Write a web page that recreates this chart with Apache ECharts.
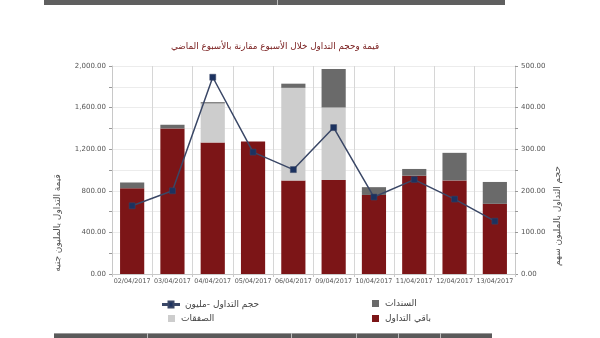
<!DOCTYPE html>
<html>
<head>
<meta charset="utf-8">
<script src="https://cdn.jsdelivr.net/npm/echarts@6/dist/echarts.min.js"></script>
<style>
html,body{margin:0;padding:0;background:#fff;}
#c{width:600px;height:338px;}
</style>
</head>
<body>
<div id="c"></div>
<script>
// ---- data ----
const categories = ['02/04/2017','03/04/2017','04/04/2017','05/04/2017','06/04/2017','09/04/2017','10/04/2017','11/04/2017','12/04/2017','13/04/2017'];
const restTrading = [825, 1400, 1265, 1275, 900, 905, 760, 945, 900, 675];   // باقي التداول
const deals       = [0, 0, 375, 0, 890, 695, 0, 0, 0, 0];                    // الصفقات
const bonds       = [55, 35, 12, 0, 40, 370, 75, 65, 265, 210];              // السندات
const volume      = [164, 200, 473, 293, 251, 352, 185, 227, 180, 127];      // حجم التداول -مليون
const leftTicks   = [0, 400, 800, 1200, 1600, 2000];
const rightTicks  = [0, 100, 200, 300, 400, 500];

const titleText = 'قيمة وحجم التداول خلال الأسبوع مقارنة بالأسبوع الماضي';
const leftName  = 'قيمة التداول بالمليون جنيه';
const rightName = 'حجم التداول بالمليون سهم';
const nRest = 'باقي التداول', nDeals = 'الصفقات', nBonds = 'السندات', nVol = 'حجم التداول -مليون';

const FF = '"DejaVu Sans", sans-serif';
const fmt = v => v.toLocaleString('en-US', {minimumFractionDigits: 2, maximumFractionDigits: 2});

const chart = echarts.init(document.getElementById('c'), null, {renderer: 'canvas'});
const legendBase = {orient: 'vertical', padding: 0, itemGap: 0, align: 'left',
  textStyle: {fontFamily: FF, fontSize: 9, color: '#444', padding: [0,0,0,1]}};
chart.setOption({
  animation: false,
  textStyle: {fontFamily: FF},
  grid: {left: 112, right: 85, top: 66, bottom: 64, containLabel: false},
  legend: [
    Object.assign({}, legendBase, {data: [{name: nVol, icon: 'path://M0,2.5h5.5v-2.5h5v2.5h5.5v1h-5.5v2.5h-5v-2.5h-5.5z'}],
      left: 162, top: 300, itemWidth: 16, itemHeight: 6}),
    Object.assign({}, legendBase, {data: [{name: nDeals, icon: 'rect'}], left: 168, top: 314, itemWidth: 7, itemHeight: 7}),
    Object.assign({}, legendBase, {data: [{name: nBonds, icon: 'rect'}], left: 372, top: 299, itemWidth: 7, itemHeight: 7}),
    Object.assign({}, legendBase, {data: [{name: nRest, icon: 'rect'}], left: 372, top: 314, itemWidth: 7, itemHeight: 7})
  ],
  xAxis: {
    type: 'category', data: categories,
    axisLine: {lineStyle: {color: '#c8c8c8'}},
    axisTick: {show: true, length: 3, lineStyle: {color: '#c8c8c8'}},
    splitLine: {show: true, lineStyle: {color: '#d6d6d6', width: 1}},
    axisLabel: {interval: 0, fontSize: 6.4, color: '#555', fontFamily: FF, margin: 4}
  },
  yAxis: [
    {
      type: 'value', min: 0, max: 2000, interval: 200, position: 'left',
      axisLine: {show: true, lineStyle: {color: '#c8c8c8'}},
      axisTick: {show: true, length: 3, lineStyle: {color: '#999'}},
      splitLine: {show: true, lineStyle: {color: '#ececec'}},
      axisLabel: {fontSize: 7, color: '#555', fontFamily: FF, margin: 6,
        formatter: v => leftTicks.indexOf(v) >= 0 ? fmt(v) : ''}
    },
    {
      type: 'value', min: 0, max: 500, interval: 50, position: 'right',
      axisLine: {show: true, lineStyle: {color: '#c8c8c8'}},
      axisTick: {show: true, length: 3, lineStyle: {color: '#999'}},
      splitLine: {show: false},
      axisLabel: {fontSize: 7, color: '#555', fontFamily: FF, margin: 6,
        formatter: v => rightTicks.indexOf(v) >= 0 ? fmt(v) : ''}
    }
  ],
  series: [
    {name: nRest, type: 'bar', stack: 'v', data: restTrading, barWidth: '60%',
      itemStyle: {color: '#7c1517'}},
    {name: nDeals, type: 'bar', stack: 'v', data: deals, barWidth: '60%',
      itemStyle: {color: '#cdcdcd'}},
    {name: nBonds, type: 'bar', stack: 'v', data: bonds, barWidth: '60%',
      itemStyle: {color: '#6a6a6a'}},
    {name: nVol, type: 'line', yAxisIndex: 1, data: volume,
      symbol: 'rect', symbolSize: 6,
      lineStyle: {color: '#3a4766', width: 1.5},
      itemStyle: {color: '#1c3260', borderColor: '#3a4766', borderWidth: 0.5}, z: 5}
  ],
  graphic: [
    {type: 'rect', shape: {x: 44, y: 0, width: 461, height: 5}, style: {fill: '#5f5f5f'}},
    {type: 'rect', shape: {x: 277, y: 0, width: 1, height: 5}, style: {fill: '#bdbdbd'}},
    {type: 'rect', shape: {x: 54, y: 333, width: 438, height: 5}, style: {fill: '#5a5a5a'}},
    {type: 'rect', shape: {x: 54, y: 333, width: 438, height: 1}, style: {fill: '#9a9a9a'}},
    {type: 'rect', shape: {x: 147, y: 333, width: 1, height: 5}, style: {fill: '#bdbdbd'}},
    {type: 'rect', shape: {x: 291, y: 333, width: 1, height: 5}, style: {fill: '#bdbdbd'}},
    {type: 'rect', shape: {x: 356, y: 333, width: 1, height: 5}, style: {fill: '#bdbdbd'}},
    {type: 'rect', shape: {x: 398, y: 333, width: 1, height: 5}, style: {fill: '#bdbdbd'}},
    {type: 'rect', shape: {x: 440, y: 333, width: 1, height: 5}, style: {fill: '#bdbdbd'}},
    {type: 'text', x: 275, y: 47, style: {text: titleText, font: '8.8px "DejaVu Sans", sans-serif',
      fill: '#7a2020', align: 'center', verticalAlign: 'middle'}},
    {type: 'text', x: 58, y: 223, rotation: Math.PI / 2, style: {text: leftName,
      font: '9px "DejaVu Sans", sans-serif', fill: '#555', align: 'center', verticalAlign: 'middle'}},
    {type: 'text', x: 558, y: 216, rotation: Math.PI / 2, style: {text: rightName,
      font: '9px "DejaVu Sans", sans-serif', fill: '#555', align: 'center', verticalAlign: 'middle'}}
  ]
});
</script>
</body>
</html>
